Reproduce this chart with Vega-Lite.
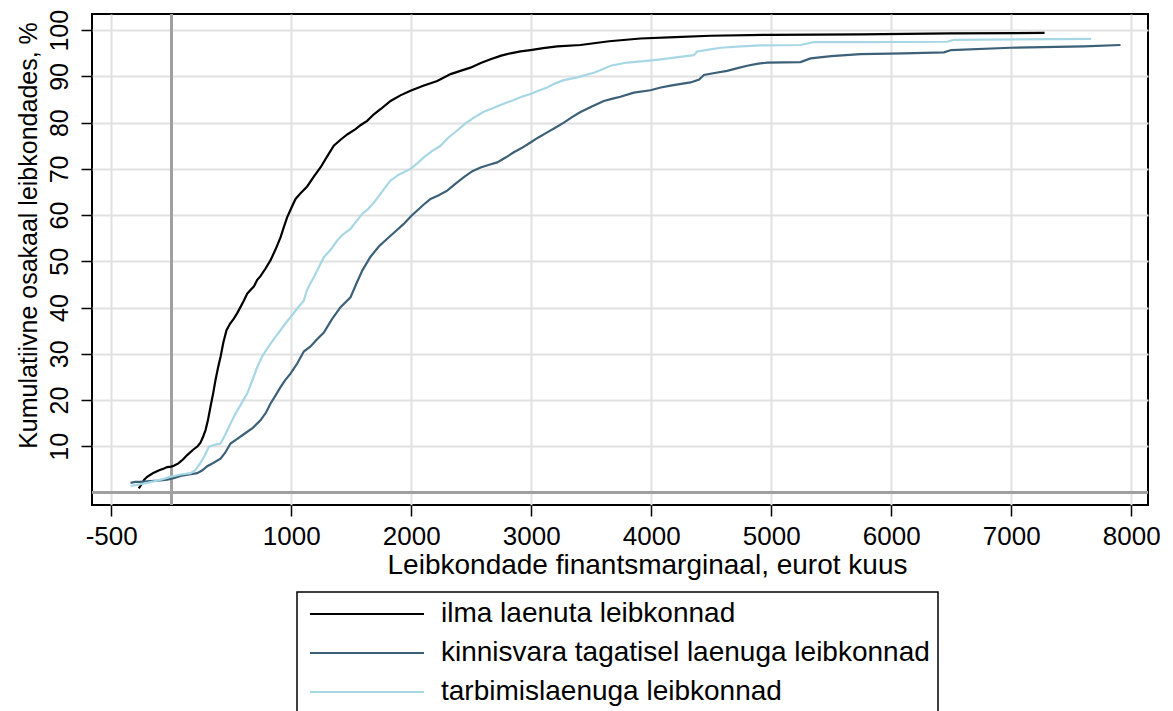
{
  "$schema": "https://vega.github.io/schema/vega-lite/v6.json",
  "width": 1056,
  "height": 491,
  "autosize": {"type": "none"},
  "padding": {"left": 92, "top": 14, "right": 25, "bottom": 206},
  "background": "white",
  "config": {
    "font": "Liberation Sans",
    "view": {"stroke": "black", "strokeWidth": 2},
    "axis": {
      "domain": false,
      "grid": true,
      "gridColor": "#e1e1e1",
      "gridWidth": 2,
      "tickColor": "black",
      "tickWidth": 1.5,
      "tickSize": 11,
      "labelColor": "black",
      "labelFont": "Liberation Sans",
      "labelFontSize": 25,
      "titleFont": "Liberation Sans",
      "titleFontSize": 25,
      "titleFontWeight": "normal",
      "titleColor": "black"
    },
    "legend": {
      "strokeWidth": 1.5
    }
  },
  "data": {
    "values": [
      {"grupp": "ilma laenuta leibkonnad", "x": -270, "y": 0.9},
      {"grupp": "ilma laenuta leibkonnad", "x": -255, "y": 1.5},
      {"grupp": "ilma laenuta leibkonnad", "x": -242, "y": 2.0},
      {"grupp": "ilma laenuta leibkonnad", "x": -225, "y": 2.8},
      {"grupp": "ilma laenuta leibkonnad", "x": -200, "y": 3.4},
      {"grupp": "ilma laenuta leibkonnad", "x": -170, "y": 3.9},
      {"grupp": "ilma laenuta leibkonnad", "x": -145, "y": 4.3},
      {"grupp": "ilma laenuta leibkonnad", "x": -100, "y": 4.8},
      {"grupp": "ilma laenuta leibkonnad", "x": -60, "y": 5.2},
      {"grupp": "ilma laenuta leibkonnad", "x": -33, "y": 5.5},
      {"grupp": "ilma laenuta leibkonnad", "x": 0, "y": 5.6},
      {"grupp": "ilma laenuta leibkonnad", "x": 22, "y": 5.8},
      {"grupp": "ilma laenuta leibkonnad", "x": 60, "y": 6.3},
      {"grupp": "ilma laenuta leibkonnad", "x": 100, "y": 7.2},
      {"grupp": "ilma laenuta leibkonnad", "x": 133, "y": 8.1},
      {"grupp": "ilma laenuta leibkonnad", "x": 180, "y": 9.2},
      {"grupp": "ilma laenuta leibkonnad", "x": 220, "y": 10.0},
      {"grupp": "ilma laenuta leibkonnad", "x": 244, "y": 10.8},
      {"grupp": "ilma laenuta leibkonnad", "x": 265, "y": 12.0},
      {"grupp": "ilma laenuta leibkonnad", "x": 286, "y": 13.5},
      {"grupp": "ilma laenuta leibkonnad", "x": 305, "y": 15.5},
      {"grupp": "ilma laenuta leibkonnad", "x": 327, "y": 18.5},
      {"grupp": "ilma laenuta leibkonnad", "x": 350, "y": 21.5},
      {"grupp": "ilma laenuta leibkonnad", "x": 369, "y": 24.3},
      {"grupp": "ilma laenuta leibkonnad", "x": 390, "y": 27.0},
      {"grupp": "ilma laenuta leibkonnad", "x": 411, "y": 29.3},
      {"grupp": "ilma laenuta leibkonnad", "x": 435, "y": 32.5},
      {"grupp": "ilma laenuta leibkonnad", "x": 461, "y": 35.1},
      {"grupp": "ilma laenuta leibkonnad", "x": 490, "y": 36.5},
      {"grupp": "ilma laenuta leibkonnad", "x": 522, "y": 37.6},
      {"grupp": "ilma laenuta leibkonnad", "x": 550, "y": 38.8},
      {"grupp": "ilma laenuta leibkonnad", "x": 577, "y": 40.1},
      {"grupp": "ilma laenuta leibkonnad", "x": 605, "y": 41.5},
      {"grupp": "ilma laenuta leibkonnad", "x": 633, "y": 43.0},
      {"grupp": "ilma laenuta leibkonnad", "x": 661, "y": 43.8},
      {"grupp": "ilma laenuta leibkonnad", "x": 690, "y": 44.6},
      {"grupp": "ilma laenuta leibkonnad", "x": 717, "y": 46.0},
      {"grupp": "ilma laenuta leibkonnad", "x": 744, "y": 46.8},
      {"grupp": "ilma laenuta leibkonnad", "x": 785, "y": 48.4},
      {"grupp": "ilma laenuta leibkonnad", "x": 827, "y": 50.2},
      {"grupp": "ilma laenuta leibkonnad", "x": 870, "y": 52.6},
      {"grupp": "ilma laenuta leibkonnad", "x": 911, "y": 55.2},
      {"grupp": "ilma laenuta leibkonnad", "x": 940, "y": 57.5},
      {"grupp": "ilma laenuta leibkonnad", "x": 966, "y": 59.5},
      {"grupp": "ilma laenuta leibkonnad", "x": 1000, "y": 61.5},
      {"grupp": "ilma laenuta leibkonnad", "x": 1036, "y": 63.5},
      {"grupp": "ilma laenuta leibkonnad", "x": 1080, "y": 64.8},
      {"grupp": "ilma laenuta leibkonnad", "x": 1133, "y": 66.2},
      {"grupp": "ilma laenuta leibkonnad", "x": 1190, "y": 68.4},
      {"grupp": "ilma laenuta leibkonnad", "x": 1244, "y": 70.3},
      {"grupp": "ilma laenuta leibkonnad", "x": 1300, "y": 72.7},
      {"grupp": "ilma laenuta leibkonnad", "x": 1355, "y": 75.0},
      {"grupp": "ilma laenuta leibkonnad", "x": 1411, "y": 76.3},
      {"grupp": "ilma laenuta leibkonnad", "x": 1470, "y": 77.5},
      {"grupp": "ilma laenuta leibkonnad", "x": 1536, "y": 78.6},
      {"grupp": "ilma laenuta leibkonnad", "x": 1580, "y": 79.5},
      {"grupp": "ilma laenuta leibkonnad", "x": 1633, "y": 80.4},
      {"grupp": "ilma laenuta leibkonnad", "x": 1689, "y": 81.8},
      {"grupp": "ilma laenuta leibkonnad", "x": 1744, "y": 82.9},
      {"grupp": "ilma laenuta leibkonnad", "x": 1828, "y": 84.7},
      {"grupp": "ilma laenuta leibkonnad", "x": 1910, "y": 85.9},
      {"grupp": "ilma laenuta leibkonnad", "x": 1994, "y": 86.9},
      {"grupp": "ilma laenuta leibkonnad", "x": 2100, "y": 88.0},
      {"grupp": "ilma laenuta leibkonnad", "x": 2217, "y": 89.0},
      {"grupp": "ilma laenuta leibkonnad", "x": 2328, "y": 90.5},
      {"grupp": "ilma laenuta leibkonnad", "x": 2410, "y": 91.2},
      {"grupp": "ilma laenuta leibkonnad", "x": 2494, "y": 91.9},
      {"grupp": "ilma laenuta leibkonnad", "x": 2580, "y": 92.9},
      {"grupp": "ilma laenuta leibkonnad", "x": 2661, "y": 93.7},
      {"grupp": "ilma laenuta leibkonnad", "x": 2750, "y": 94.5},
      {"grupp": "ilma laenuta leibkonnad", "x": 2828, "y": 95.0},
      {"grupp": "ilma laenuta leibkonnad", "x": 2910, "y": 95.4},
      {"grupp": "ilma laenuta leibkonnad", "x": 2994, "y": 95.7},
      {"grupp": "ilma laenuta leibkonnad", "x": 3100, "y": 96.1},
      {"grupp": "ilma laenuta leibkonnad", "x": 3217, "y": 96.5},
      {"grupp": "ilma laenuta leibkonnad", "x": 3411, "y": 96.8},
      {"grupp": "ilma laenuta leibkonnad", "x": 3650, "y": 97.6},
      {"grupp": "ilma laenuta leibkonnad", "x": 3911, "y": 98.2},
      {"grupp": "ilma laenuta leibkonnad", "x": 4200, "y": 98.5},
      {"grupp": "ilma laenuta leibkonnad", "x": 4494, "y": 98.8},
      {"grupp": "ilma laenuta leibkonnad", "x": 4994, "y": 99.0},
      {"grupp": "ilma laenuta leibkonnad", "x": 5744, "y": 99.1},
      {"grupp": "ilma laenuta leibkonnad", "x": 6500, "y": 99.3},
      {"grupp": "ilma laenuta leibkonnad", "x": 7278, "y": 99.4},

      {"grupp": "kinnisvara tagatisel laenuga leibkonnad", "x": -339, "y": 2.1},
      {"grupp": "kinnisvara tagatisel laenuga leibkonnad", "x": -300, "y": 2.3},
      {"grupp": "kinnisvara tagatisel laenuga leibkonnad", "x": -256, "y": 2.3},
      {"grupp": "kinnisvara tagatisel laenuga leibkonnad", "x": -200, "y": 2.4},
      {"grupp": "kinnisvara tagatisel laenuga leibkonnad", "x": -145, "y": 2.5},
      {"grupp": "kinnisvara tagatisel laenuga leibkonnad", "x": -90, "y": 2.6},
      {"grupp": "kinnisvara tagatisel laenuga leibkonnad", "x": -33, "y": 2.8},
      {"grupp": "kinnisvara tagatisel laenuga leibkonnad", "x": 20, "y": 3.1},
      {"grupp": "kinnisvara tagatisel laenuga leibkonnad", "x": 78, "y": 3.6},
      {"grupp": "kinnisvara tagatisel laenuga leibkonnad", "x": 150, "y": 3.9},
      {"grupp": "kinnisvara tagatisel laenuga leibkonnad", "x": 217, "y": 4.2},
      {"grupp": "kinnisvara tagatisel laenuga leibkonnad", "x": 260, "y": 4.8},
      {"grupp": "kinnisvara tagatisel laenuga leibkonnad", "x": 300, "y": 5.7},
      {"grupp": "kinnisvara tagatisel laenuga leibkonnad", "x": 350, "y": 6.4},
      {"grupp": "kinnisvara tagatisel laenuga leibkonnad", "x": 411, "y": 7.3},
      {"grupp": "kinnisvara tagatisel laenuga leibkonnad", "x": 450, "y": 8.6},
      {"grupp": "kinnisvara tagatisel laenuga leibkonnad", "x": 494, "y": 10.6},
      {"grupp": "kinnisvara tagatisel laenuga leibkonnad", "x": 550, "y": 11.6},
      {"grupp": "kinnisvara tagatisel laenuga leibkonnad", "x": 605, "y": 12.6},
      {"grupp": "kinnisvara tagatisel laenuga leibkonnad", "x": 680, "y": 14.0},
      {"grupp": "kinnisvara tagatisel laenuga leibkonnad", "x": 744, "y": 15.6},
      {"grupp": "kinnisvara tagatisel laenuga leibkonnad", "x": 790, "y": 17.3},
      {"grupp": "kinnisvara tagatisel laenuga leibkonnad", "x": 827, "y": 19.2},
      {"grupp": "kinnisvara tagatisel laenuga leibkonnad", "x": 870, "y": 21.0},
      {"grupp": "kinnisvara tagatisel laenuga leibkonnad", "x": 911, "y": 22.8},
      {"grupp": "kinnisvara tagatisel laenuga leibkonnad", "x": 950, "y": 24.3},
      {"grupp": "kinnisvara tagatisel laenuga leibkonnad", "x": 994, "y": 25.7},
      {"grupp": "kinnisvara tagatisel laenuga leibkonnad", "x": 1050, "y": 27.9},
      {"grupp": "kinnisvara tagatisel laenuga leibkonnad", "x": 1105, "y": 30.5},
      {"grupp": "kinnisvara tagatisel laenuga leibkonnad", "x": 1161, "y": 31.6},
      {"grupp": "kinnisvara tagatisel laenuga leibkonnad", "x": 1210, "y": 33.0},
      {"grupp": "kinnisvara tagatisel laenuga leibkonnad", "x": 1272, "y": 34.6},
      {"grupp": "kinnisvara tagatisel laenuga leibkonnad", "x": 1340, "y": 37.5},
      {"grupp": "kinnisvara tagatisel laenuga leibkonnad", "x": 1411, "y": 40.1},
      {"grupp": "kinnisvara tagatisel laenuga leibkonnad", "x": 1494, "y": 42.2},
      {"grupp": "kinnisvara tagatisel laenuga leibkonnad", "x": 1540, "y": 45.0},
      {"grupp": "kinnisvara tagatisel laenuga leibkonnad", "x": 1592, "y": 48.0},
      {"grupp": "kinnisvara tagatisel laenuga leibkonnad", "x": 1661, "y": 51.0},
      {"grupp": "kinnisvara tagatisel laenuga leibkonnad", "x": 1730, "y": 53.2},
      {"grupp": "kinnisvara tagatisel laenuga leibkonnad", "x": 1800, "y": 54.9},
      {"grupp": "kinnisvara tagatisel laenuga leibkonnad", "x": 1870, "y": 56.5},
      {"grupp": "kinnisvara tagatisel laenuga leibkonnad", "x": 1938, "y": 58.1},
      {"grupp": "kinnisvara tagatisel laenuga leibkonnad", "x": 2000, "y": 59.8},
      {"grupp": "kinnisvara tagatisel laenuga leibkonnad", "x": 2050, "y": 61.0},
      {"grupp": "kinnisvara tagatisel laenuga leibkonnad", "x": 2105, "y": 62.3},
      {"grupp": "kinnisvara tagatisel laenuga leibkonnad", "x": 2161, "y": 63.5},
      {"grupp": "kinnisvara tagatisel laenuga leibkonnad", "x": 2230, "y": 64.3},
      {"grupp": "kinnisvara tagatisel laenuga leibkonnad", "x": 2300, "y": 65.3},
      {"grupp": "kinnisvara tagatisel laenuga leibkonnad", "x": 2370, "y": 66.8},
      {"grupp": "kinnisvara tagatisel laenuga leibkonnad", "x": 2439, "y": 68.2},
      {"grupp": "kinnisvara tagatisel laenuga leibkonnad", "x": 2510, "y": 69.5},
      {"grupp": "kinnisvara tagatisel laenuga leibkonnad", "x": 2578, "y": 70.3},
      {"grupp": "kinnisvara tagatisel laenuga leibkonnad", "x": 2650, "y": 70.9},
      {"grupp": "kinnisvara tagatisel laenuga leibkonnad", "x": 2717, "y": 71.4},
      {"grupp": "kinnisvara tagatisel laenuga leibkonnad", "x": 2790, "y": 72.5},
      {"grupp": "kinnisvara tagatisel laenuga leibkonnad", "x": 2855, "y": 73.6},
      {"grupp": "kinnisvara tagatisel laenuga leibkonnad", "x": 2920, "y": 74.5},
      {"grupp": "kinnisvara tagatisel laenuga leibkonnad", "x": 2994, "y": 75.7},
      {"grupp": "kinnisvara tagatisel laenuga leibkonnad", "x": 3060, "y": 76.8},
      {"grupp": "kinnisvara tagatisel laenuga leibkonnad", "x": 3133, "y": 77.9},
      {"grupp": "kinnisvara tagatisel laenuga leibkonnad", "x": 3200, "y": 78.9},
      {"grupp": "kinnisvara tagatisel laenuga leibkonnad", "x": 3272, "y": 80.0},
      {"grupp": "kinnisvara tagatisel laenuga leibkonnad", "x": 3340, "y": 81.2},
      {"grupp": "kinnisvara tagatisel laenuga leibkonnad", "x": 3411, "y": 82.3},
      {"grupp": "kinnisvara tagatisel laenuga leibkonnad", "x": 3505, "y": 83.5},
      {"grupp": "kinnisvara tagatisel laenuga leibkonnad", "x": 3605, "y": 84.7},
      {"grupp": "kinnisvara tagatisel laenuga leibkonnad", "x": 3680, "y": 85.2},
      {"grupp": "kinnisvara tagatisel laenuga leibkonnad", "x": 3744, "y": 85.6},
      {"grupp": "kinnisvara tagatisel laenuga leibkonnad", "x": 3855, "y": 86.5},
      {"grupp": "kinnisvara tagatisel laenuga leibkonnad", "x": 3994, "y": 87.0},
      {"grupp": "kinnisvara tagatisel laenuga leibkonnad", "x": 4080, "y": 87.6},
      {"grupp": "kinnisvara tagatisel laenuga leibkonnad", "x": 4161, "y": 88.0},
      {"grupp": "kinnisvara tagatisel laenuga leibkonnad", "x": 4250, "y": 88.4},
      {"grupp": "kinnisvara tagatisel laenuga leibkonnad", "x": 4328, "y": 88.7},
      {"grupp": "kinnisvara tagatisel laenuga leibkonnad", "x": 4400, "y": 89.3},
      {"grupp": "kinnisvara tagatisel laenuga leibkonnad", "x": 4439, "y": 90.3},
      {"grupp": "kinnisvara tagatisel laenuga leibkonnad", "x": 4540, "y": 90.8},
      {"grupp": "kinnisvara tagatisel laenuga leibkonnad", "x": 4633, "y": 91.2},
      {"grupp": "kinnisvara tagatisel laenuga leibkonnad", "x": 4720, "y": 91.8},
      {"grupp": "kinnisvara tagatisel laenuga leibkonnad", "x": 4800, "y": 92.3},
      {"grupp": "kinnisvara tagatisel laenuga leibkonnad", "x": 4880, "y": 92.7},
      {"grupp": "kinnisvara tagatisel laenuga leibkonnad", "x": 4967, "y": 93.0},
      {"grupp": "kinnisvara tagatisel laenuga leibkonnad", "x": 5244, "y": 93.1},
      {"grupp": "kinnisvara tagatisel laenuga leibkonnad", "x": 5328, "y": 93.9},
      {"grupp": "kinnisvara tagatisel laenuga leibkonnad", "x": 5500, "y": 94.4},
      {"grupp": "kinnisvara tagatisel laenuga leibkonnad", "x": 5744, "y": 94.8},
      {"grupp": "kinnisvara tagatisel laenuga leibkonnad", "x": 6105, "y": 95.0},
      {"grupp": "kinnisvara tagatisel laenuga leibkonnad", "x": 6440, "y": 95.2},
      {"grupp": "kinnisvara tagatisel laenuga leibkonnad", "x": 6500, "y": 95.7},
      {"grupp": "kinnisvara tagatisel laenuga leibkonnad", "x": 6994, "y": 96.2},
      {"grupp": "kinnisvara tagatisel laenuga leibkonnad", "x": 7605, "y": 96.5},
      {"grupp": "kinnisvara tagatisel laenuga leibkonnad", "x": 7911, "y": 96.8},

      {"grupp": "tarbimislaenuga leibkonnad", "x": -339, "y": 1.4},
      {"grupp": "tarbimislaenuga leibkonnad", "x": -300, "y": 1.6},
      {"grupp": "tarbimislaenuga leibkonnad", "x": -256, "y": 1.8},
      {"grupp": "tarbimislaenuga leibkonnad", "x": -200, "y": 2.1},
      {"grupp": "tarbimislaenuga leibkonnad", "x": -145, "y": 2.4},
      {"grupp": "tarbimislaenuga leibkonnad", "x": -70, "y": 2.9},
      {"grupp": "tarbimislaenuga leibkonnad", "x": -6, "y": 3.4},
      {"grupp": "tarbimislaenuga leibkonnad", "x": 80, "y": 3.9},
      {"grupp": "tarbimislaenuga leibkonnad", "x": 161, "y": 4.2},
      {"grupp": "tarbimislaenuga leibkonnad", "x": 200, "y": 4.8},
      {"grupp": "tarbimislaenuga leibkonnad", "x": 244, "y": 6.4},
      {"grupp": "tarbimislaenuga leibkonnad", "x": 280, "y": 8.0},
      {"grupp": "tarbimislaenuga leibkonnad", "x": 314, "y": 9.9},
      {"grupp": "tarbimislaenuga leibkonnad", "x": 360, "y": 10.3},
      {"grupp": "tarbimislaenuga leibkonnad", "x": 411, "y": 10.6},
      {"grupp": "tarbimislaenuga leibkonnad", "x": 450, "y": 12.5},
      {"grupp": "tarbimislaenuga leibkonnad", "x": 494, "y": 14.9},
      {"grupp": "tarbimislaenuga leibkonnad", "x": 536, "y": 17.1},
      {"grupp": "tarbimislaenuga leibkonnad", "x": 580, "y": 19.0},
      {"grupp": "tarbimislaenuga leibkonnad", "x": 633, "y": 21.4},
      {"grupp": "tarbimislaenuga leibkonnad", "x": 680, "y": 24.5},
      {"grupp": "tarbimislaenuga leibkonnad", "x": 717, "y": 27.1},
      {"grupp": "tarbimislaenuga leibkonnad", "x": 760, "y": 29.5},
      {"grupp": "tarbimislaenuga leibkonnad", "x": 800, "y": 31.1},
      {"grupp": "tarbimislaenuga leibkonnad", "x": 850, "y": 33.0},
      {"grupp": "tarbimislaenuga leibkonnad", "x": 911, "y": 35.1},
      {"grupp": "tarbimislaenuga leibkonnad", "x": 950, "y": 36.5},
      {"grupp": "tarbimislaenuga leibkonnad", "x": 994, "y": 37.9},
      {"grupp": "tarbimislaenuga leibkonnad", "x": 1050, "y": 39.8},
      {"grupp": "tarbimislaenuga leibkonnad", "x": 1105, "y": 41.5},
      {"grupp": "tarbimislaenuga leibkonnad", "x": 1133, "y": 43.9},
      {"grupp": "tarbimislaenuga leibkonnad", "x": 1189, "y": 46.6},
      {"grupp": "tarbimislaenuga leibkonnad", "x": 1230, "y": 48.7},
      {"grupp": "tarbimislaenuga leibkonnad", "x": 1272, "y": 50.9},
      {"grupp": "tarbimislaenuga leibkonnad", "x": 1328, "y": 52.5},
      {"grupp": "tarbimislaenuga leibkonnad", "x": 1383, "y": 54.5},
      {"grupp": "tarbimislaenuga leibkonnad", "x": 1430, "y": 55.8},
      {"grupp": "tarbimislaenuga leibkonnad", "x": 1494, "y": 57.0},
      {"grupp": "tarbimislaenuga leibkonnad", "x": 1540, "y": 58.6},
      {"grupp": "tarbimislaenuga leibkonnad", "x": 1592, "y": 60.3},
      {"grupp": "tarbimislaenuga leibkonnad", "x": 1640, "y": 61.3},
      {"grupp": "tarbimislaenuga leibkonnad", "x": 1689, "y": 62.7},
      {"grupp": "tarbimislaenuga leibkonnad", "x": 1744, "y": 64.6},
      {"grupp": "tarbimislaenuga leibkonnad", "x": 1790, "y": 66.2},
      {"grupp": "tarbimislaenuga leibkonnad", "x": 1828, "y": 67.5},
      {"grupp": "tarbimislaenuga leibkonnad", "x": 1900, "y": 68.8},
      {"grupp": "tarbimislaenuga leibkonnad", "x": 1994, "y": 70.0},
      {"grupp": "tarbimislaenuga leibkonnad", "x": 2050, "y": 71.2},
      {"grupp": "tarbimislaenuga leibkonnad", "x": 2105, "y": 72.5},
      {"grupp": "tarbimislaenuga leibkonnad", "x": 2170, "y": 73.8},
      {"grupp": "tarbimislaenuga leibkonnad", "x": 2244, "y": 75.0},
      {"grupp": "tarbimislaenuga leibkonnad", "x": 2310, "y": 76.8},
      {"grupp": "tarbimislaenuga leibkonnad", "x": 2383, "y": 78.3},
      {"grupp": "tarbimislaenuga leibkonnad", "x": 2450, "y": 79.8},
      {"grupp": "tarbimislaenuga leibkonnad", "x": 2522, "y": 81.1},
      {"grupp": "tarbimislaenuga leibkonnad", "x": 2600, "y": 82.3},
      {"grupp": "tarbimislaenuga leibkonnad", "x": 2689, "y": 83.2},
      {"grupp": "tarbimislaenuga leibkonnad", "x": 2770, "y": 84.1},
      {"grupp": "tarbimislaenuga leibkonnad", "x": 2855, "y": 84.9},
      {"grupp": "tarbimislaenuga leibkonnad", "x": 2920, "y": 85.6},
      {"grupp": "tarbimislaenuga leibkonnad", "x": 2994, "y": 86.2},
      {"grupp": "tarbimislaenuga leibkonnad", "x": 3060, "y": 86.9},
      {"grupp": "tarbimislaenuga leibkonnad", "x": 3133, "y": 87.6},
      {"grupp": "tarbimislaenuga leibkonnad", "x": 3200, "y": 88.5},
      {"grupp": "tarbimislaenuga leibkonnad", "x": 3272, "y": 89.2},
      {"grupp": "tarbimislaenuga leibkonnad", "x": 3383, "y": 89.8},
      {"grupp": "tarbimislaenuga leibkonnad", "x": 3522, "y": 90.8},
      {"grupp": "tarbimislaenuga leibkonnad", "x": 3600, "y": 91.6},
      {"grupp": "tarbimislaenuga leibkonnad", "x": 3661, "y": 92.3},
      {"grupp": "tarbimislaenuga leibkonnad", "x": 3800, "y": 93.0},
      {"grupp": "tarbimislaenuga leibkonnad", "x": 3940, "y": 93.3},
      {"grupp": "tarbimislaenuga leibkonnad", "x": 4078, "y": 93.7},
      {"grupp": "tarbimislaenuga leibkonnad", "x": 4355, "y": 94.6},
      {"grupp": "tarbimislaenuga leibkonnad", "x": 4383, "y": 95.4},
      {"grupp": "tarbimislaenuga leibkonnad", "x": 4480, "y": 95.8},
      {"grupp": "tarbimislaenuga leibkonnad", "x": 4578, "y": 96.2},
      {"grupp": "tarbimislaenuga leibkonnad", "x": 4750, "y": 96.5},
      {"grupp": "tarbimislaenuga leibkonnad", "x": 4911, "y": 96.7},
      {"grupp": "tarbimislaenuga leibkonnad", "x": 5244, "y": 96.8},
      {"grupp": "tarbimislaenuga leibkonnad", "x": 5355, "y": 97.4},
      {"grupp": "tarbimislaenuga leibkonnad", "x": 5744, "y": 97.4},
      {"grupp": "tarbimislaenuga leibkonnad", "x": 6466, "y": 97.5},
      {"grupp": "tarbimislaenuga leibkonnad", "x": 6522, "y": 97.9},
      {"grupp": "tarbimislaenuga leibkonnad", "x": 7666, "y": 98.1}
    ]
  },
  "layer": [
    {
      "mark": {"type": "rule", "color": "#a0a0a0", "strokeWidth": 2},
      "encoding": {"x": {"datum": 0, "type": "quantitative"}}
    },
    {
      "mark": {"type": "rule", "color": "#a0a0a0", "strokeWidth": 2},
      "encoding": {"y": {"datum": 0, "type": "quantitative"}}
    },
    {
      "mark": {"type": "line", "strokeWidth": 2.2, "interpolate": "linear"},
      "encoding": {
        "x": {
          "field": "x",
          "type": "quantitative",
          "scale": {"domain": [-660, 8140], "nice": false, "zero": false},
          "axis": {
            "values": [-500, 1000, 2000, 3000, 4000, 5000, 6000, 7000, 8000],
            "labelExpr": "datum.value < 0 ? '-' + abs(datum.value) : '' + datum.value",
            "labelFontSize": 26,
            "labelPadding": 7,
            "labelBaseline": "top",
            "labelFlush": false,
            "title": "Leibkondade finantsmarginaal, eurot kuus",
            "titleFontSize": 28,
            "titleX": 555,
            "titleY": 68,
            "titleAlign": "center",
            "titleBaseline": "alphabetic",
            "titleAnchor": null
          }
        },
        "y": {
          "field": "y",
          "type": "quantitative",
          "scale": {"domain": [-2.7, 103.5], "nice": false, "zero": false},
          "axis": {
            "values": [10, 20, 30, 40, 50, 60, 70, 80, 90, 100],
            "labelAngle": 270,
            "labelAlign": "center",
            "labelBaseline": "alphabetic",
            "labelPadding": 14,
            "labelFlush": false,
            "title": "Kumulatiivne osakaal leibkondades, %",
            "titleAngle": 270,
            "titleX": -56,
            "titleY": 221,
            "titleAlign": "center",
            "titleBaseline": "alphabetic",
            "titleAnchor": null
          }
        },
        "color": {
          "field": "grupp",
          "type": "nominal",
          "scale": {
            "domain": ["ilma laenuta leibkonnad", "kinnisvara tagatisel laenuga leibkonnad", "tarbimislaenuga leibkonnad"],
            "range": ["#000000", "#3d6079", "#a7d7e4"]
          },
          "legend": {
            "orient": "none",
            "legendX": 205,
            "legendY": 578,
            "direction": "vertical",
            "title": null,
            "symbolType": "M-1.8,0H21",
            "symbolSize": 100,
            "symbolStrokeWidth": 2,
            "symbolFillColor": "transparent",
            "labelFontSize": 28,
            "labelColor": "black",
            "labelFont": "Liberation Sans",
            "labelOffset": 108,
            "labelLimit": 0,
            "padding": 8,
            "rowPadding": 11,
            "strokeColor": "black"
          }
        }
      }
    }
  ]
}
